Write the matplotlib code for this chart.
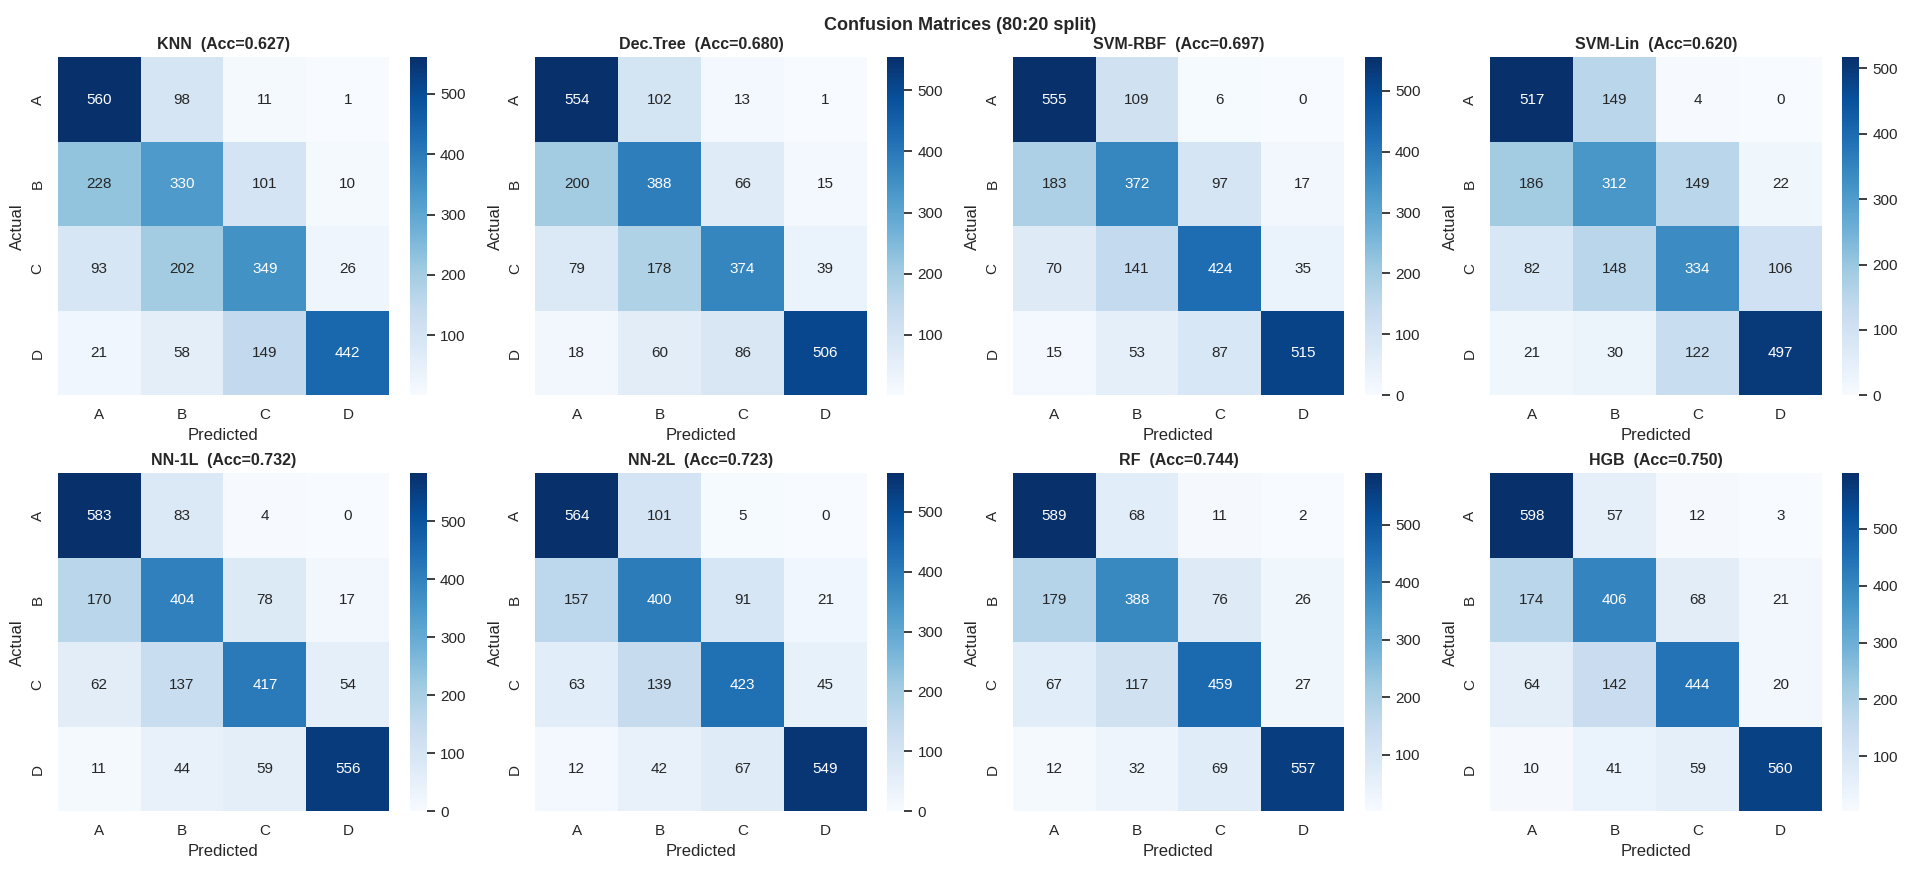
import numpy as np
import matplotlib
matplotlib.use("Agg")
import matplotlib.pyplot as plt
import seaborn as sns

labels = ["A", "B", "C", "D"]
model_names = ["KNN", "Dec.Tree", "SVM-RBF", "SVM-Lin", "NN-1L", "NN-2L", "RF", "HGB"]
accs = [0.627, 0.680, 0.697, 0.620, 0.732, 0.723, 0.744, 0.750]

cm_knn = [[560, 98, 11, 1], [228, 330, 101, 10], [93, 202, 349, 26], [21, 58, 149, 442]]
cm_tree = [[554, 102, 13, 1], [200, 388, 66, 15], [79, 178, 374, 39], [18, 60, 86, 506]]
cm_rbf = [[555, 109, 6, 0], [183, 372, 97, 17], [70, 141, 424, 35], [15, 53, 87, 515]]
cm_lin = [[517, 149, 4, 0], [186, 312, 149, 22], [82, 148, 334, 106], [21, 30, 122, 497]]
cm_nn1 = [[583, 83, 4, 0], [170, 404, 78, 17], [62, 137, 417, 54], [11, 44, 59, 556]]
cm_nn2 = [[564, 101, 5, 0], [157, 400, 91, 21], [63, 139, 423, 45], [12, 42, 67, 549]]
cm_rf = [[589, 68, 11, 2], [179, 388, 76, 26], [67, 117, 459, 27], [12, 32, 69, 557]]
cm_hgb = [[598, 57, 12, 3], [174, 406, 68, 21], [64, 142, 444, 20], [10, 41, 59, 560]]
matrices = [cm_knn, cm_tree, cm_rbf, cm_lin, cm_nn1, cm_nn2, cm_rf, cm_hgb]

sns.set_theme(style="white")
plt.rcParams["font.family"] = ["Liberation Sans", "DejaVu Sans"]

fig, axes = plt.subplots(2, 4, figsize=(19.2, 8.69), dpi=100)
for ax, name, acc, cm in zip(axes.flat, model_names, accs, matrices):
    sns.heatmap(np.array(cm), annot=True, fmt="d", cmap="Blues", ax=ax,
                xticklabels=labels, yticklabels=labels, annot_kws={"size": 11})
    ax.set_title(f"{name}  (Acc={acc:.3f})", fontweight="bold", fontsize=11.5)
    ax.set_xlabel("Predicted", fontsize=12)
    ax.set_ylabel("Actual", fontsize=12)
    ax.tick_params(labelsize=11)
    ax.collections[0].colorbar.ax.tick_params(labelsize=11)

fig.suptitle("Confusion Matrices (80:20 split)", fontweight="bold", fontsize=13)
plt.tight_layout(pad=0.6)
fig.savefig("out.png", dpi=100)
